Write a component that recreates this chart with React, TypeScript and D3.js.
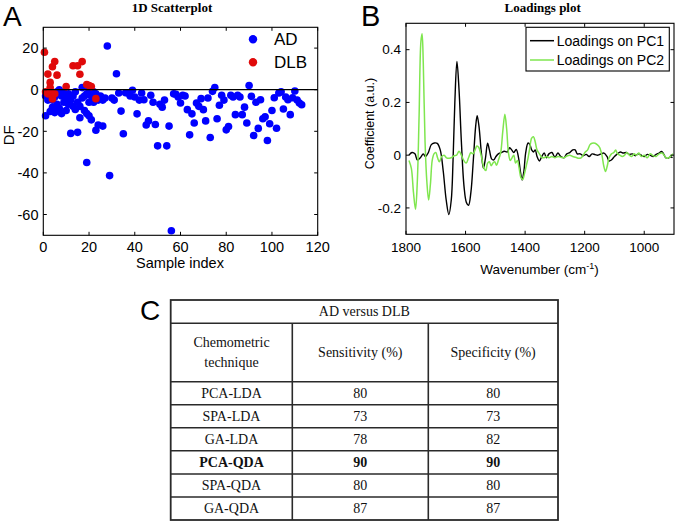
import React from 'react';
import * as d3 from 'd3';

// ---------- Panel A data: 1D scatterplot (sample index, DF) ----------
const adPoints: [number, number][] = [
  [1,-12.5],[1,-3],[2,-5],[2,-1.5],[3,-10.5],[3,-2],[4,-8.5],[4,-5],[5,-11],[5,-3.5],
  [6,-7],[6,-1],[7,-9],[7,0],[8,-11.5],[8,-3],[9,-6],[9,-1.5],[10,-10],[10,-4],
  [11,-7],[11,-2],[12,-21],[12,-5],[13,-8],[13,-3],[14,-9.5],[14,-1],[15,-20.5],[15,-6],
  [16,-13.5],[16,-8],[17,-4],[17,1],[18,-10],[18,-3],[19,-35],[19,-11.5],[19,-2],[20,-12.5],
  [20,-6],[20,0.5],[21,-14.5],[21,-3],[22,-1],[22,-6],[23,-19.5],[23,-2],[24,-17],[24,-5],
  [25,-3],[26,-17.5],[26,-5],[27,-4],
  [28,21],[29,-41.3],[30,-4],[31,-5],[32,7.7],[33,-1.6],[34,-10.3],[35,-21.2],[36,-1.5],[37,-1.6],
  [38,-3],[39,-0.3],[40,-3.5],[41,-11.6],[42,-5],[43,-1.6],[44,-4.8],[45,-17],[46,-15],[47,-2.7],
  [48,-6],[49,-16.7],[50,-27],[51,-7],[52,-8.4],[53,-5],[54,-27],[55,-17.5],[56,-67.8],[57,-2],
  [58,-2.2],[59,-3.5],[60,-6.4],[61,-2.7],[62,-3],[63,-9.6],[64,-21.7],[65,-11.6],[66,-16],[67,-6.4],
  [68,-8],[69,-4.3],[70,-9.6],[71,-15],[72,-4],[73,-23],[74,-0.8],[75,1],[76,-14],[77,-7.5],
  [78,-2.7],[79,-5],[80,-19.3],[81,-17.7],[82,-2.7],[83,-3.5],[84,-12],[85,-2.7],[86,-3.5],[87,-12],
  [88,-8.4],[89,-16],[90,2],[91,-3.2],[92,-22],[93,-6],[94,-18.6],[95,-4.8],[96,-14],[97,-13],
  [98,-24.4],[99,-16.4],[100,-10],[101,-3.9],[102,-18.5],[103,-1.6],[104,-1],[105,-9.3],[106,-3.5],[107,-4.8],
  [108,-12],[109,-3.9],[110,-0.6],[111,-5],[112,-6.4],[113,-7.2],
];
const dlbPoints: [number, number][] = [
  [0.5,18],[2,7.5],[3,3.5],[3,1],[4,11],[5,13.5],[6,7],[1,-1],[2,-2],[3,-0.5],
  [4,-3.5],[5,-2],[4,-4.5],[10,1.5],[13,11.5],[15,11.5],[17,13.5],[16,7.4],[19,2.5],[20,2],
  [21,1.5],[23,-4.3],
];
const scatterXTicks = [0, 20, 40, 60, 80, 100, 120];
const scatterYTicks = [-60, -40, -20, 0, 20];
const scatterLegend = ['AD', 'DLB'];

// ---------- Panel B data: loadings (wavenumber, coefficient) ----------
const pc1: [number, number][] = [
  [1790,0],[1780,0.01],[1770,0.005],[1762,-0.018],[1752,-0.01],[1742,0.005],[1735,-0.005],[1725,0.01],
  [1715,0.04],[1705,0.046],[1695,0.045],[1685,0.02],[1675,-0.06],[1665,-0.17],[1656,-0.225],[1648,-0.17],
  [1642,-0.02],[1636,0.2],[1629,0.355],[1622,0.25],[1614,0.05],[1605,-0.12],[1597,-0.18],[1590,-0.19],
  [1582,-0.14],[1574,-0.02],[1566,0.11],[1561,0.15],[1555,0.11],[1547,0.01],[1540,-0.05],[1533,-0.01],
  [1526,0.045],[1520,0.02],[1512,-0.015],[1505,-0.018],[1498,-0.005],[1490,0.005],[1480,0.01],[1470,0.015],
  [1460,0.012],[1452,0.028],[1445,0.02],[1438,0.01],[1430,0.022],[1422,-0.01],[1416,-0.06],[1410,-0.094],
  [1404,-0.06],[1398,0.01],[1390,0.046],[1384,0.04],[1378,0.02],[1372,0.012],[1366,0.02],[1360,-0.005],
  [1352,-0.022],[1344,-0.005],[1336,0.008],[1328,-0.01],[1320,0.005],[1310,0.01],[1300,-0.008],[1290,0.008],
  [1280,-0.005],[1270,-0.01],[1260,0.005],[1250,0.01],[1240,0.02],[1232,0.02],[1225,0.005],[1215,0.005],
  [1205,-0.002],[1195,0.003],[1185,-0.005],[1175,0.005],[1165,0.002],[1155,0],[1145,0.005],[1135,0.008],
  [1125,-0.005],[1118,-0.022],[1110,-0.018],[1100,-0.005],[1090,0.005],[1080,0.012],[1070,0.008],[1060,0.01],
  [1050,0.003],[1040,0.005],[1030,-0.002],[1020,0.005],[1010,0],[1000,-0.005],[990,0.003],[980,0],
  [970,-0.005],[960,0.003],[950,0.008],[942,0.014],[935,0.005],[928,-0.01],[920,-0.012],[912,-0.006],[905,-0.01],
];
const pc2: [number, number][] = [
  [1790,-0.02],[1782,-0.05],[1775,-0.14],[1768,-0.205],[1762,-0.1],[1756,0.15],[1750,0.43],[1746,0.46],
  [1742,0.35],[1736,0.05],[1730,-0.1],[1724,-0.17],[1718,-0.11],[1712,-0.02],[1706,0.005],[1700,0.01],
  [1694,-0.01],[1688,-0.025],[1680,-0.005],[1672,0],[1664,-0.01],[1655,-0.012],[1645,-0.008],[1638,-0.002],
  [1630,0],[1622,0.015],[1614,0],[1606,-0.02],[1598,-0.03],[1590,-0.01],[1582,0.01],[1575,0.005],
  [1568,0.02],[1562,0.035],[1556,0.03],[1550,0.01],[1544,-0.02],[1538,-0.05],[1532,-0.058],[1526,-0.03],
  [1520,-0.025],[1514,-0.04],[1508,-0.03],[1502,-0.025],[1496,-0.038],[1490,-0.02],[1482,0.01],[1475,0.09],
  [1468,0.155],[1462,0.1],[1456,0.01],[1450,-0.02],[1444,-0.01],[1438,0],[1432,-0.03],[1426,-0.02],
  [1420,-0.05],[1414,-0.085],[1408,-0.092],[1402,-0.07],[1396,-0.04],[1390,-0.01],[1384,0.03],[1378,0.065],
  [1372,0.07],[1366,0.05],[1360,0.02],[1352,0.005],[1344,-0.008],[1336,-0.01],[1328,-0.005],[1320,-0.01],
  [1310,-0.005],[1300,-0.01],[1290,-0.005],[1280,-0.008],[1270,-0.01],[1260,-0.003],[1250,0],[1240,-0.005],
  [1230,-0.008],[1220,-0.012],[1212,-0.01],[1205,0],[1198,0.012],[1190,0.02],[1182,0.04],[1175,0.045],
  [1165,0.045],[1158,0.04],[1150,0.03],[1142,0],[1136,-0.04],[1130,-0.062],[1124,-0.04],[1118,-0.01],
  [1110,0.005],[1102,0.01],[1096,0.02],[1090,0.005],[1082,0],[1074,-0.005],[1066,0],[1058,0.01],
  [1050,0],[1042,-0.005],[1034,0.005],[1026,0],[1018,0.008],[1010,-0.005],[1000,0],[990,-0.01],
  [980,0.005],[970,-0.002],[960,-0.005],[950,0.005],[940,0.008],[932,-0.002],[924,-0.012],[916,-0.008],
  [908,0],[903,0.005],
];
const loadXTicks = [1800, 1600, 1400, 1200, 1000];
const loadYTicks = [-0.2, 0, 0.2, 0.4];
const loadLegend = ['Loadings on PC1', 'Loadings on PC2'];

// ---------- Panel C data: table ----------
const tableTitle = 'AD versus DLB';
const tableHeaders = [['Chemometric', 'technique'], ['Sensitivity (%)'], ['Specificity (%)']];
const techniques = ['PCA-LDA', 'SPA-LDA', 'GA-LDA', 'PCA-QDA', 'SPA-QDA', 'GA-QDA'];
const sensitivity = [80, 73, 78, 90, 80, 87];
const specificity = [80, 73, 82, 90, 80, 87];
const bestTechnique = 'PCA-QDA';

const SANS = '"Liberation Sans", Arial, sans-serif';
const SERIF = '"Liberation Serif", "Times New Roman", serif';
const BLUE = '#0000ff';
const RED = '#e00a0a';
const GREEN = '#7fe64f';
const TICK = 3.5;

function Frame({ l, r, t, b }: { l: number; r: number; t: number; b: number }) {
  return <rect x={l} y={t} width={r - l} height={b - t} fill="none" stroke="#000" strokeWidth={1.1} />;
}

function ScatterPanel() {
  const l = 43.3, r = 317.7, t = 27.3, b = 235.3;
  const x = d3.scaleLinear().domain([0, 120]).range([l, r]);
  const y = d3.scaleLinear().domain([-70, 30]).range([b, t]);
  return (
    <g>
      <text x={3} y={26} fontFamily={SANS} fontSize={28}>A</text>
      <text x={172} y={11.5} textAnchor="middle" fontFamily={SERIF} fontWeight="bold" fontSize={13}>1D Scatterplot</text>
      <rect x={l} y={t} width={r - l} height={b - t} fill="#fff" />
      {adPoints.map(([i, v], k) => (
        <circle key={'a' + k} cx={x(i)} cy={y(v)} r={3.8} fill={BLUE} />
      ))}
      {dlbPoints.map(([i, v], k) => (
        <circle key={'d' + k} cx={x(i)} cy={y(v)} r={3.8} fill={RED} />
      ))}
      <line x1={l} x2={r} y1={y(0)} y2={y(0)} stroke="#000" strokeWidth={1.2} />
      <Frame l={l} r={r} t={t} b={b} />
      {scatterXTicks.map((tv) => (
        <g key={'xt' + tv}>
          <line x1={x(tv)} x2={x(tv)} y1={b} y2={b - TICK} stroke="#000" />
          <line x1={x(tv)} x2={x(tv)} y1={t} y2={t + TICK} stroke="#000" />
          <text x={x(tv)} y={251.5} textAnchor="middle" fontFamily={SANS} fontSize={14.5}>{String(tv)}</text>
        </g>
      ))}
      {scatterYTicks.map((tv) => (
        <g key={'yt' + tv}>
          <line x1={l} x2={l + TICK} y1={y(tv)} y2={y(tv)} stroke="#000" />
          <line x1={r} x2={r - TICK} y1={y(tv)} y2={y(tv)} stroke="#000" />
          <text x={38.5} y={y(tv) + 5.2} textAnchor="end" fontFamily={SANS} fontSize={14.5}>{String(tv)}</text>
        </g>
      ))}
      <text x={180} y={268} textAnchor="middle" fontFamily={SANS} fontSize={14.5}>Sample index</text>
      <text transform={`translate(13.5,${(t + b) / 2 + 4}) rotate(-90)`} textAnchor="middle" fontFamily={SANS} fontSize={15}>DF</text>
      {scatterLegend.map((name, k) => (
        <g key={name}>
          <circle cx={253} cy={39.3 + k * 23} r={4.2} fill={k === 0 ? BLUE : RED} />
          <text x={274} y={39.3 + k * 23 + 6} fontFamily={SANS} fontSize={17}>{name}</text>
        </g>
      ))}
    </g>
  );
}

function LoadingsPanel() {
  const l = 406, r = 674, t = 23.3, b = 234.3;
  const x = d3.scaleLinear().domain([1800, 900]).range([l, r]);
  const y = d3.scaleLinear().domain([-0.3, 0.5]).range([b, t]);
  const line = d3
    .line<[number, number]>()
    .x((d) => x(d[0]))
    .y((d) => y(d[1]))
    .curve(d3.curveCatmullRom.alpha(0.5));
  return (
    <g>
      <text x={361} y={26} fontFamily={SANS} fontSize={29}>B</text>
      <text x={542.7} y={12} textAnchor="middle" fontFamily={SERIF} fontWeight="bold" fontSize={13}>Loadings plot</text>
      <path d={line(pc1) || ''} fill="none" stroke="#000" strokeWidth={1.4} />
      <path d={line(pc2) || ''} fill="none" stroke={GREEN} strokeWidth={1.5} />
      <Frame l={l} r={r} t={t} b={b} />
      {loadXTicks.map((tv) => (
        <g key={'xt' + tv}>
          <line x1={x(tv)} x2={x(tv)} y1={b} y2={b - TICK} stroke="#000" />
          <line x1={x(tv)} x2={x(tv)} y1={t} y2={t + TICK} stroke="#000" />
          <text x={x(tv)} y={251.7} textAnchor="middle" fontFamily={SANS} fontSize={13.5}>{String(tv)}</text>
        </g>
      ))}
      {loadYTicks.map((tv) => (
        <g key={'yt' + tv}>
          <line x1={l} x2={l + TICK} y1={y(tv)} y2={y(tv)} stroke="#000" />
          <line x1={r} x2={r - TICK} y1={y(tv)} y2={y(tv)} stroke="#000" />
          <text x={401} y={y(tv) + 4.8} textAnchor="end" fontFamily={SANS} fontSize={13.5}>{String(tv)}</text>
        </g>
      ))}
      <text x={539.5} y={274} textAnchor="middle" fontFamily={SANS} fontSize={13.5}>
        Wavenumber (cm<tspan dy={-5} fontSize={9}>-1</tspan><tspan dy={5}>)</tspan>
      </text>
      <text transform={`translate(374,123.5) rotate(-90)`} textAnchor="middle" fontFamily={SANS} fontSize={12.5}>Coefficient (a.u.)</text>
      <rect x={526} y={27.3} width={143.3} height={43.7} fill="#fff" stroke="#000" strokeWidth={1.1} />
      {loadLegend.map((name, k) => (
        <g key={name}>
          <line x1={530} x2={554} y1={40.7 + k * 19.3} y2={40.7 + k * 19.3} stroke={k === 0 ? '#000' : GREEN} strokeWidth={1.5} />
          <text x={556.7} y={40.7 + k * 19.3 + 5} fontFamily={SANS} fontSize={14}>{name}</text>
        </g>
      ))}
    </g>
  );
}

function TablePanel() {
  const colEdges = [170.7, 292.3, 428.3, 558];
  const top = 300, titleBottom = 323.3, headerBottom = 381.7, bottom = 520;
  const rowY = d3.scaleLinear().domain([0, techniques.length]).range([headerBottom, bottom]);
  const stroke = '#2a2a2a';
  const colMid = (c: number) => (colEdges[c] + colEdges[c + 1]) / 2;
  return (
    <g fontFamily={SERIF} fontSize={14} fill="#111">
      <text x={140} y={320} fontFamily={SANS} fontSize={28} fill="#000">C</text>
      <rect x={colEdges[0]} y={top} width={colEdges[3] - colEdges[0]} height={bottom - top} fill="none" stroke={stroke} strokeWidth={1.8} />
      <line x1={colEdges[0]} x2={colEdges[3]} y1={titleBottom} y2={titleBottom} stroke={stroke} strokeWidth={1.5} />
      <line x1={colEdges[0]} x2={colEdges[3]} y1={headerBottom} y2={headerBottom} stroke={stroke} strokeWidth={1.5} />
      {techniques.map((_, i) =>
        i > 0 ? (
          <line key={'rl' + i} x1={colEdges[0]} x2={colEdges[3]} y1={rowY(i)} y2={rowY(i)} stroke={stroke} strokeWidth={1.5} />
        ) : null
      )}
      {[1, 2].map((c) => (
        <line key={'cl' + c} x1={colEdges[c]} x2={colEdges[c]} y1={titleBottom} y2={bottom} stroke={stroke} strokeWidth={1.6} />
      ))}
      <text x={(colEdges[0] + colEdges[3]) / 2} y={(top + titleBottom) / 2 + 4.8} textAnchor="middle">{tableTitle}</text>
      {tableHeaders.map((lines, c) =>
        lines.map((ln, j) => (
          <text
            key={'h' + c + j}
            x={colMid(c)}
            y={(titleBottom + headerBottom) / 2 + 4.8 + (j - (lines.length - 1) / 2) * 20}
            textAnchor="middle"
          >
            {ln}
          </text>
        ))
      )}
      {techniques.map((tech, i) => {
        const cy = (rowY(i) + rowY(i + 1)) / 2 + 4.8;
        const bold = tech === bestTechnique ? 'bold' : 'normal';
        return (
          <g key={'r' + i} fontWeight={bold}>
            <text x={colMid(0)} y={cy} textAnchor="middle">{tech}</text>
            <text x={colMid(1)} y={cy} textAnchor="middle">{String(sensitivity[i])}</text>
            <text x={colMid(2)} y={cy} textAnchor="middle">{String(specificity[i])}</text>
          </g>
        );
      })}
    </g>
  );
}

export default function App() {
  return (
    <svg
      width={677}
      height={523}
      viewBox="0 0 677 523"
      style={{ position: 'absolute', left: 0, top: 0, background: '#fff', display: 'block' }}
    >
      <rect x={0} y={0} width={677} height={523} fill="#fff" />
      <ScatterPanel />
      <LoadingsPanel />
      <TablePanel />
    </svg>
  );
}
